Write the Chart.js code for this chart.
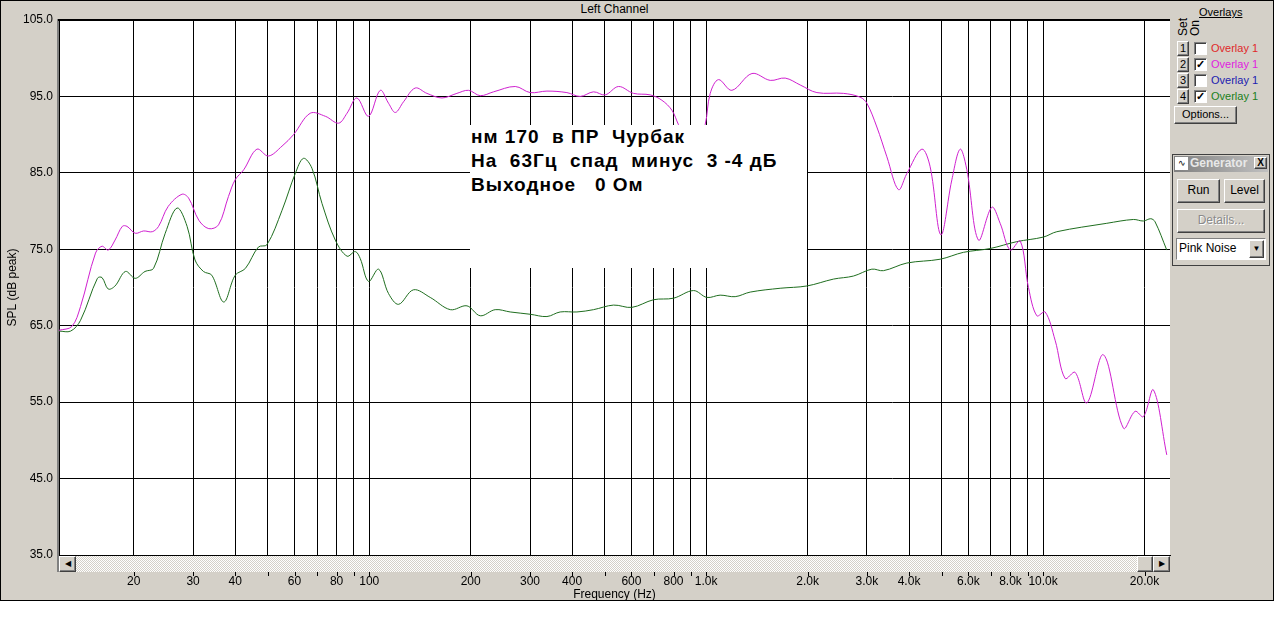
<!DOCTYPE html>
<html>
<head>
<meta charset="utf-8">
<script src="https://cdn.jsdelivr.net/npm/chart.js@4.4.1/dist/chart.umd.min.js"></script>
<style>
  body { margin: 0; background: #fff; font-family: Arial, "Liberation Sans", sans-serif; }
  .abs { position: absolute; }
  #win { left: 0; top: 0; width: 1274px; height: 601px; background: #d4d0c8; border: 1px solid #000; box-sizing: border-box; }
  #plotBox { left: 0; top: 0; width: 1172px; height: 602px; }
  #title { left: 59px; top: 2px; width: 1111px; text-align: center; font-size: 12px; }
  #note { left: 470px; top: 125px; width: 337px; height: 143px; background: #fff; font-weight: bold; font-size: 19px; letter-spacing: 1px; line-height: 24px; white-space: pre; padding: 0 0 0 1px; box-sizing: border-box; color: #000; }
  #scroll { left: 59px; top: 556px; width: 1111px; height: 16px; background: repeating-conic-gradient(#d4d0c8 0 25%, #fff 0 50%) 0 0 / 2px 2px; }
  .btn { position: absolute; background: #d4d0c8; border: 1px solid; border-color: #fff #404040 #404040 #fff; box-shadow: inset -1px -1px #808080; box-sizing: border-box; font-size: 12px; text-align: center; color: #000; }
  .chk { position: absolute; background: #fff; border: 1px solid; border-color: #808080 #fff #fff #808080; box-shadow: inset 1px 1px #404040; box-sizing: border-box; width: 13px; height: 13px; font-size: 11px; line-height: 11px; text-align: center; font-weight: bold; }
  .lbl { position: absolute; font-size: 11px; }
  .rot { position: absolute; transform: rotate(-90deg); transform-origin: left top; font-size: 12px; line-height: 13px; white-space: nowrap; }
</style>
</head>
<body>
<div id="win" class="abs"></div>
<div id="title" class="abs">Left Channel</div>
<div id="plotBox" class="abs"><canvas id="fr"></canvas></div>
<div id="note" class="abs">нм 170  в ПР  Чурбак
На  63Гц  спад  минус  3 -4 дБ
Выходное   0 Ом</div>

<!-- scrollbar under the plot -->
<div id="scroll" class="abs"></div>
<div class="btn" style="left:59px;top:556px;width:17px;height:16px;font-size:8px;line-height:14px;">&#9664;</div>
<div class="btn" style="left:1137px;top:556px;width:16px;height:16px;"></div>
<div class="btn" style="left:1153px;top:556px;width:17px;height:16px;font-size:8px;line-height:14px;">&#9654;</div>

<!-- overlays panel -->
<div class="lbl" style="left:1199px;top:6px;text-decoration:underline;">Overlays</div>
<div class="rot" style="left:1177px;top:36px;">Set</div>
<div class="rot" style="left:1189px;top:36px;">On</div>
<div id="rows"></div>
<div class="btn" style="left:1174px;top:106px;width:63px;height:18px;font-size:11px;line-height:15px;">Options...</div>

<!-- generator panel -->
<div class="abs" style="left:1172px;top:154px;width:98px;height:112px;border:1px solid #404040;box-sizing:border-box;background:#d4d0c8;"></div>
<div class="abs" style="left:1174px;top:156px;width:94px;height:16px;background:linear-gradient(90deg,#808080,#c0c0c0);"></div>
<div class="abs" style="left:1175px;top:157px;width:13px;height:13px;background:#fff;font-size:9px;line-height:13px;text-align:center;color:#000;">&#8767;</div>
<div class="lbl" style="left:1190px;top:156px;color:#e8e8e8;font-weight:bold;font-size:12px;">Generator</div>
<div class="btn" style="left:1254px;top:157px;width:13px;height:12px;font-size:10px;line-height:10px;font-weight:bold;">X</div>
<div class="btn" style="left:1177px;top:179px;width:43px;height:24px;line-height:21px;">Run</div>
<div class="btn" style="left:1224px;top:179px;width:41px;height:24px;line-height:21px;">Level</div>
<div class="btn" style="left:1177px;top:209px;width:88px;height:24px;line-height:21px;color:#8a8a8a;text-shadow:1px 1px #fff;">Details...</div>
<div class="abs" style="left:1176px;top:238px;width:90px;height:22px;background:#fff;border:1px solid;border-color:#808080 #fff #fff #808080;box-sizing:border-box;font-size:12px;line-height:19px;padding-left:2px;">Pink Noise</div>
<div class="btn" style="left:1249px;top:240px;width:15px;height:18px;font-size:8px;line-height:16px;">&#9660;</div>

<script>
// Data (Hz / dB)
const magentaFreq = [12.0, 13.1, 13.9, 15.4, 16.1, 16.8, 17.6, 18.5, 19.1, 20.2,
  21.4, 22.7, 23.7, 25.3, 27.8, 29.1, 31.2, 33.4, 35.7, 38.2,
  40.0, 42.4, 46.4, 50.2, 55.1, 59.6, 66.8, 74.1, 81.1, 85.9,
  91.9, 99.5, 107.8, 114.1, 119.5, 126.4, 136.9, 148.3, 164.4, 182,
  197.1, 213.5, 233.8, 271.2, 300.4, 336.8, 386, 422.8, 463, 501.5,
  549.4, 608.4, 682.1, 738.8, 791, 827.7, 880, 940, 993, 1028,
  1088, 1192, 1367, 1549, 1716, 1901, 2131, 2555, 2864, 2999,
  3210, 3438, 3721, 3939, 4366, 4620, 4971, 5360, 5671, 5938,
  6427, 7044, 7455, 7985, 8550, 9047, 9580, 10140, 10855, 11622,
  12445, 13480, 15100, 17310, 18750, 19840, 21250, 23280];
const magentaDb = [64.4, 64.9, 67.5, 74.5, 75.4, 74.9, 76.2, 78.0, 78.0, 77.1,
  77.4, 77.3, 78.0, 80.6, 82.2, 81.7, 78.8, 77.7, 78.2, 81.9,
  84.1, 85.4, 88.1, 87.2, 88.5, 90.0, 92.8, 92.4, 91.5, 92.8,
  94.8, 92.4, 95.8, 94.1, 92.9, 94.3, 96.1, 95.4, 94.8, 95.4,
  95.8, 95.1, 95.6, 96.3, 95.5, 95.7, 95.5, 95.0, 95.6, 95.2,
  96.3, 95.4, 95.2, 94.5, 93.2, 91.3, 89.0, 88.5, 91.3, 95.4,
  97.2, 95.8, 98.0, 97.1, 97.4, 96.5, 95.5, 95.4, 94.9, 94.1,
  91.0, 87.1, 82.8, 84.9, 88.1, 85.8, 76.9, 84.1, 88.1, 85.4,
  76.2, 80.5, 78.4, 74.9, 76.1, 70.0, 66.3, 66.8, 63.1, 58.1,
  58.9, 54.9, 61.2, 51.6, 53.8, 53.1, 56.6, 48.1];

const greenFreq = [12.0, 13.0, 13.9, 15.6, 16.1, 16.8, 17.6, 18.9, 20.2, 21.6,
  22.9, 24.8, 26.9, 28.8, 30.4, 32.2, 34.1, 37.0, 40.0, 42.9,
  46.9, 49.7, 55.1, 60.3, 63.8, 67.6, 72.4, 79.3, 85.9, 90.9,
  94.0, 99.5, 106.6, 114.1, 122.2, 135.3, 151.7, 174, 195, 213.5,
  236.5, 262, 300.4, 336.8, 368.7, 413.4, 463, 530.9, 602, 697.9,
  799.8, 917, 1005, 1100, 1219, 1351, 1658, 1990, 2387, 2736,
  3102, 3358, 3940, 4948, 5800, 6962, 8353, 10020, 10980, 15450,
  18530, 19840, 20870, 21490, 23280];
const greenDb = [64.3, 64.3, 65.7, 71.2, 71.3, 69.8, 70.2, 72.1, 71.2, 72.1,
  72.5, 77.1, 80.4, 78.0, 73.6, 72.1, 71.6, 68.1, 71.6, 72.5,
  75.3, 75.6, 80.1, 84.9, 86.9, 85.6, 81.0, 76.2, 74.1, 74.7,
  73.8, 70.8, 72.4, 69.2, 67.8, 69.7, 68.7, 67.1, 67.6, 66.3,
  67.1, 66.8, 66.5, 66.2, 66.8, 66.8, 67.1, 67.7, 67.4, 68.4,
  68.6, 69.6, 68.7, 69.0, 68.8, 69.4, 69.9, 70.2, 71.1, 71.5,
  72.4, 72.2, 73.2, 73.7, 74.6, 75.1, 76.0, 76.6, 77.3, 78.4,
  78.9, 78.7, 79.0, 78.6, 74.9];

// Axis ticks
const xGridFreqs = [20, 30, 40, 50, 60, 70, 80, 90, 100, 200, 300, 400, 500, 600, 700, 800, 900,
  1000, 2000, 3000, 4000, 5000, 6000, 7000, 8000, 9000, 10000, 20000];
const xTickLabels = ['20', '30', '40', '', '60', '', '80', '', '100', '200', '300', '400', '', '600', '', '800', '',
  '1.0k', '2.0k', '3.0k', '4.0k', '', '6.0k', '', '8.0k', '', '10.0k', '20.0k'];
const yTicks = [35, 45, 55, 65, 75, 85, 95, 105];

// Overlay rows in the side panel
const overlayColors = ['#e02828', '#e020e0', '#2020b0', '#208020'];
const overlayOn = [false, true, false, true];
let rowsHtml = '';
overlayColors.forEach((c, i) => {
  const top = 41 + i * 16;
  rowsHtml += `<div class="btn" style="left:1177px;top:${top}px;width:12px;height:15px;font-size:11px;line-height:13px;">${i + 1}</div>`;
  rowsHtml += `<div class="chk" style="left:1194px;top:${top + 1}px;">${overlayOn[i] ? '&#10003;' : ''}</div>`;
  rowsHtml += `<div class="lbl" style="left:1211px;top:${top + 1}px;color:${c};">Overlay 1</div>`;
});
document.getElementById('rows').innerHTML = rowsHtml;

const toPoints = (fs, ds) => fs.map((f, i) => ({ x: f, y: ds[i] }));

// white plot area, sunken edge, small tick marks below the scrollbar
const plotFrame = {
  id: 'plotFrame',
  beforeDraw(chart) {
    const { ctx, chartArea: a } = chart;
    ctx.save();
    ctx.fillStyle = '#fff';
    ctx.fillRect(a.left, a.top, a.right - a.left, a.bottom - a.top);
    ctx.restore();
  },
  afterDraw(chart) {
    const { ctx, chartArea: a, scales } = chart;
    ctx.save();
    ctx.fillStyle = '#808080';
    ctx.fillRect(a.left - 2, a.top - 1, 2, a.bottom - a.top + 18);
    ctx.fillStyle = '#000';
    ctx.fillRect(a.left - 1, a.top - 1, a.right - a.left + 1, 2);
    ctx.strokeStyle = '#000';
    ctx.lineWidth = 1;
    scales.x.ticks.forEach(t => {
      const px = Math.round(scales.x.getPixelForValue(t.value)) + 0.5;
      ctx.beginPath();
      ctx.moveTo(px, a.bottom + 17);
      ctx.lineTo(px, a.bottom + 21);
      ctx.stroke();
    });
    ctx.restore();
  }
};

const font = { family: 'Arial, "Liberation Sans", sans-serif', size: 12 };

new Chart(document.getElementById('fr'), {
  type: 'line',
  data: {
    datasets: [
      {
        label: 'Overlay 1 (2)',
        data: toPoints(magentaFreq, magentaDb),
        borderColor: '#d020d0',
        borderWidth: 1,
        pointRadius: 0,
        tension: 0.35
      },
      {
        label: 'Overlay 1 (4)',
        data: toPoints(greenFreq, greenDb),
        borderColor: '#1f6e1f',
        borderWidth: 1,
        pointRadius: 0,
        tension: 0.35
      }
    ]
  },
  options: {
    responsive: true,
    maintainAspectRatio: false,
    animation: false,
    layout: { padding: { top: 20, right: 2, left: 0, bottom: 0 } },
    plugins: {
      legend: { display: false },
      tooltip: { enabled: false }
    },
    scales: {
      x: {
        type: 'logarithmic',
        min: 12,
        max: 23800,
        afterBuildTicks: s => { s.ticks = xGridFreqs.map(v => ({ value: v })); },
        afterFit: s => { s.height = 47; s.paddingLeft = 0; s.paddingRight = 0; },
        ticks: {
          autoSkip: false,
          maxRotation: 0,
          minRotation: 0,
          padding: 19,
          color: '#000',
          font: font,
          callback: v => xTickLabels[xGridFreqs.indexOf(v)]
        },
        grid: { color: '#000', drawTicks: false },
        border: { color: '#000' },
        title: { display: true, text: 'Frequency (Hz)', color: '#000', font: font, padding: { top: 0, bottom: 0 } }
      },
      y: {
        min: 35,
        max: 105,
        afterBuildTicks: s => { s.ticks = yTicks.map(v => ({ value: v })); },
        afterFit: s => { s.width = 59; s.paddingTop = 0; s.paddingBottom = 0; },
        ticks: {
          padding: 6,
          color: '#000',
          font: font,
          callback: v => v.toFixed(1)
        },
        grid: { color: '#000', drawTicks: false },
        border: { color: '#000' },
        title: { display: true, text: 'SPL (dB peak)', color: '#000', font: font, padding: { top: 5, bottom: 0 } }
      }
    }
  },
  plugins: [plotFrame]
});
</script>
</body>
</html>
